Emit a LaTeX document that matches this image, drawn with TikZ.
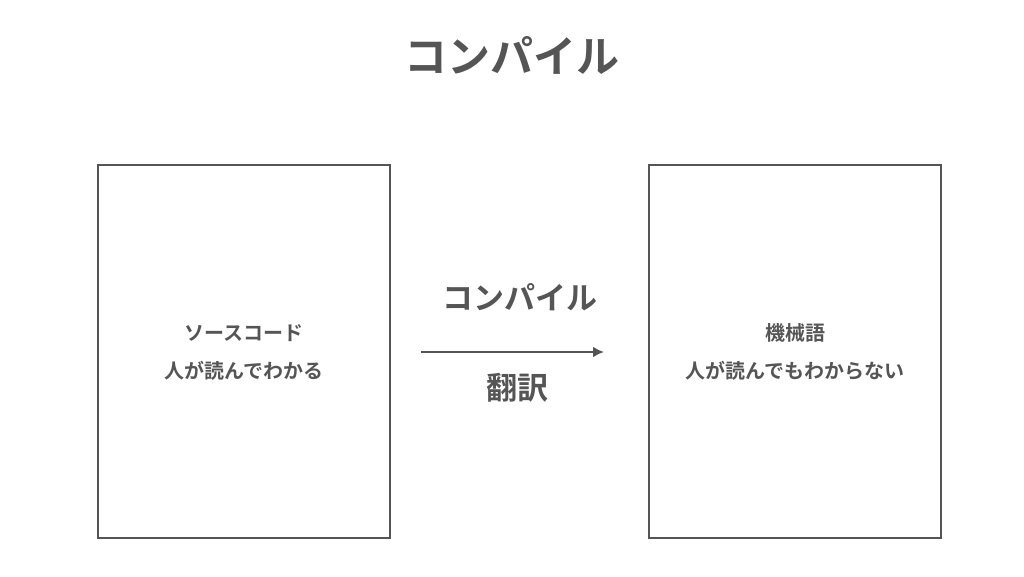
\documentclass[tikz,border=0pt]{standalone}
\usepackage{fontspec}
\usetikzlibrary{arrows.meta}
\newfontfamily\cjkb{Noto Sans CJK JP Bold}
\definecolor{ink}{HTML}{555555}
\begin{document}
\begin{tikzpicture}[x=1pt,y=-1pt,
  box/.style={draw=ink,line width=2pt},
  txt/.style={text=ink,font=\cjkb\fontsize{20}{38}\selectfont,align=center}]
\useasboundingbox (0,0) rectangle (1024,576);
\node[text=ink,font=\cjkb\fontsize{43}{50}\selectfont] (title) at (512,55) {コンパイル};
\draw[box] (98,165) rectangle (390,538);
\draw[box] (649,165) rectangle (941,538);
\node[txt] (src) at (244,352) {ソースコード\\人が読んでわかる};
\node[txt] (mc) at (795,352) {機械語\\人が読んでもわからない};
\coordinate (a1) at (421,352);
\coordinate (a2) at (604,352);
\draw[draw=ink,line width=2.4pt,-{Latex[length=11pt,width=11pt]}] (a1) -- (a2);
\node[text=ink,font=\cjkb\fontsize{31}{36}\selectfont] (c) at (520,297) {コンパイル};
\node[text=ink,font=\cjkb\fontsize{31}{36}\selectfont] (t) at (517,388) {翻訳};
\end{tikzpicture}
\end{document}
